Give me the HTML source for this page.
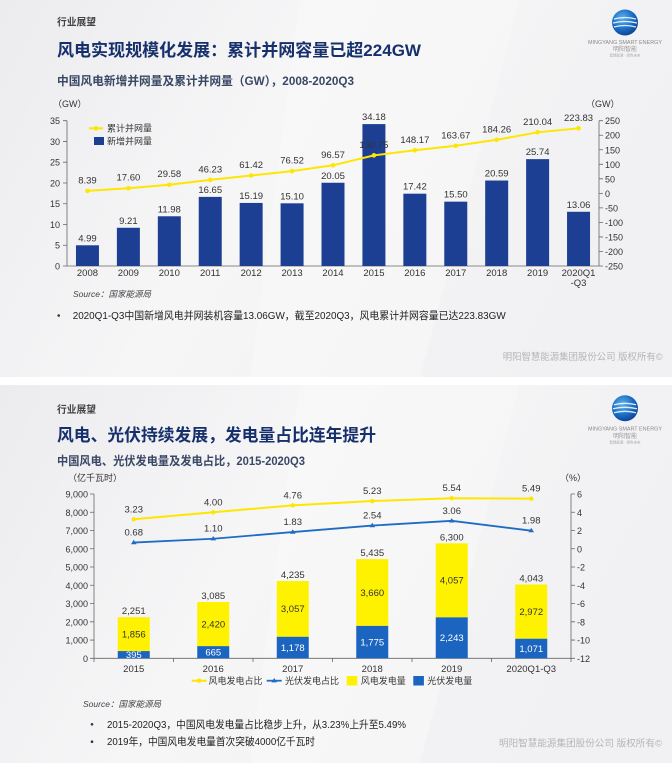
<!DOCTYPE html>
<html><head><meta charset="utf-8">
<style>
html,body{margin:0;padding:0;background:#fff;}
body{width:672px;height:766px;overflow:hidden;}
svg{display:block;}
text{font-family:"Liberation Sans","Noto Sans CJK SC",sans-serif;}
.n{font-size:9.5px;fill:#333;}
.ax{font-size:9px;fill:#333;}
</style></head><body>
<svg width="672" height="766" viewBox="0 0 672 766" xmlns="http://www.w3.org/2000/svg">
<defs>
<linearGradient id="bg" x1="0" y1="0" x2="1" y2="0.3">
<stop offset="0" stop-color="#ececef"/><stop offset="0.45" stop-color="#f6f6f7"/><stop offset="1" stop-color="#f1f1f3"/>
</linearGradient>
<radialGradient id="lg" cx="0.4" cy="0.35" r="0.7">
<stop offset="0" stop-color="#5fb3ec"/><stop offset="0.6" stop-color="#1a6cc4"/><stop offset="1" stop-color="#0d3f8f"/>
</radialGradient>
</defs>
<rect x="0" y="0" width="672" height="766" fill="#fff"/>
<rect x="0" y="0" width="672" height="377" fill="url(#bg)"/>
<rect x="0" y="385" width="672" height="378" fill="url(#bg)"/>
<polygon points="300,0 520,0 420,377 250,377" fill="#fff" opacity="0.25"/>
<polygon points="300,385 520,385 420,763 250,763" fill="#fff" opacity="0.25"/>

<!-- ===== Slide 1 ===== -->
<text x="57" y="25.5" font-size="10" font-weight="700" fill="#444" textLength="39" lengthAdjust="spacingAndGlyphs">行业展望</text>
<text x="57" y="56" font-size="17" font-weight="700" fill="#16306c" textLength="364" lengthAdjust="spacingAndGlyphs">风电实现规模化发展：累计并网容量已超224GW</text>
<text x="57" y="85" font-size="12" font-weight="700" fill="#3a4866" textLength="297" lengthAdjust="spacingAndGlyphs">中国风电新增并网量及累计并网量（GW），2008-2020Q3</text>
<!-- logo 1 -->
<circle cx="625" cy="22.5" r="13" fill="url(#lg)"/>
<path d="M614,19 Q625,16 636,19 M613,23 Q625,20 637,23 M614,27 Q625,24 636,27" stroke="#fff" stroke-width="1.3" fill="none" opacity="0.85"/>
<text x="625" y="44" font-size="5" fill="#8a8a8a" text-anchor="middle" textLength="74" lengthAdjust="spacingAndGlyphs">MINGYANG SMART ENERGY</text>
<text x="625" y="51" font-size="6" fill="#999" text-anchor="middle">明阳智能</text>
<text x="625" y="56.5" font-size="3.5" fill="#aaa" text-anchor="middle">智慧能源 · 绿色未来</text>

<text x="53" y="107" class="ax">（GW）</text>
<text x="586" y="107" class="ax">（GW）</text>

<!-- axes -->
<g stroke="#666" stroke-width="0.8" fill="none">
<line x1="67" y1="120.7" x2="67" y2="266"/>
<line x1="599" y1="120.7" x2="599" y2="266"/>
<line x1="67" y1="266" x2="599" y2="266"/>
<path d="M63,266H67M63,245.24H67M63,224.49H67M63,203.73H67M63,182.97H67M63,162.21H67M63,141.46H67M63,120.7H67"/>
<path d="M599,266H603M599,251.47H603M599,236.94H603M599,222.41H603M599,207.88H603M599,193.35H603M599,178.82H603M599,164.29H603M599,149.76H603M599,135.23H603M599,120.7H603"/>
</g>
<g class="ax" text-anchor="end">
<text x="60" y="269.5">0</text><text x="60" y="248.7">5</text><text x="60" y="228">10</text><text x="60" y="207.2">15</text><text x="60" y="186.5">20</text><text x="60" y="165.7">25</text><text x="60" y="145">30</text><text x="60" y="124.2">35</text>
</g>
<g class="ax">
<text x="605" y="269.5">-250</text><text x="605" y="255">-200</text><text x="605" y="240.4">-150</text><text x="605" y="225.9">-100</text><text x="605" y="211.4">-50</text><text x="605" y="196.9">0</text><text x="605" y="182.3">50</text><text x="605" y="167.8">100</text><text x="605" y="153.3">150</text><text x="605" y="138.7">200</text><text x="605" y="124.2">250</text>
</g>

<!-- bars -->
<g fill="#1d3f93">
<rect x="75.96" y="245.28" width="23" height="20.72"/>
<rect x="116.88" y="227.77" width="23" height="38.23"/>
<rect x="157.81" y="216.27" width="23" height="49.73"/>
<rect x="198.73" y="196.88" width="23" height="69.12"/>
<rect x="239.65" y="202.94" width="23" height="63.06"/>
<rect x="280.58" y="203.31" width="23" height="62.69"/>
<rect x="321.5" y="182.76" width="23" height="83.24"/>
<rect x="362.42" y="124.1" width="23" height="141.9"/>
<rect x="403.35" y="193.68" width="23" height="72.32"/>
<rect x="444.27" y="201.65" width="23" height="64.35"/>
<rect x="485.19" y="180.52" width="23" height="85.48"/>
<rect x="526.12" y="159.14" width="23" height="106.86"/>
<rect x="567.04" y="211.78" width="23" height="54.22"/>
</g>
<g class="n" text-anchor="middle">
<text x="87.46" y="241.3">4.99</text>
<text x="128.38" y="223.8">9.21</text>
<text x="169.31" y="212.3">11.98</text>
<text x="210.23" y="192.9">16.65</text>
<text x="251.15" y="198.9">15.19</text>
<text x="292.08" y="199.3">15.10</text>
<text x="333" y="178.8">20.05</text>
<text x="373.92" y="120.1">34.18</text>
<text x="414.85" y="189.7">17.42</text>
<text x="455.77" y="197.7">15.50</text>
<text x="496.69" y="176.5">20.59</text>
<text x="537.62" y="155.1">25.74</text>
<text x="578.54" y="207.8">13.06</text>
</g>
<!-- cumulative line -->
<polyline fill="none" stroke="#ffe600" stroke-width="2" points="87.46,190.91 128.38,188.24 169.31,184.75 210.23,179.92 251.15,175.5 292.08,171.11 333,165.29 373.92,155.35 414.85,150.29 455.77,145.79 496.69,139.8 537.62,132.31 578.54,128.31"/>
<g fill="#ffe600">
<circle cx="87.46" cy="190.91" r="2.3"/><circle cx="128.38" cy="188.24" r="2.3"/><circle cx="169.31" cy="184.75" r="2.3"/><circle cx="210.23" cy="179.92" r="2.3"/><circle cx="251.15" cy="175.5" r="2.3"/><circle cx="292.08" cy="171.11" r="2.3"/><circle cx="333" cy="165.29" r="2.3"/><circle cx="373.92" cy="155.35" r="2.3"/><circle cx="414.85" cy="150.29" r="2.3"/><circle cx="455.77" cy="145.79" r="2.3"/><circle cx="496.69" cy="139.8" r="2.3"/><circle cx="537.62" cy="132.31" r="2.3"/><circle cx="578.54" cy="128.31" r="2.3"/>
</g>
<g class="n" text-anchor="middle">
<text x="87.46" y="183.4">8.39</text>
<text x="128.38" y="180.7">17.60</text>
<text x="169.31" y="177.2">29.58</text>
<text x="210.23" y="172.4">46.23</text>
<text x="251.15" y="168">61.42</text>
<text x="292.08" y="163.6">76.52</text>
<text x="333" y="157.8">96.57</text>
<text x="373.92" y="147.8">130.75</text>
<text x="414.85" y="142.8">148.17</text>
<text x="455.77" y="138.3">163.67</text>
<text x="496.69" y="132.3">184.26</text>
<text x="537.62" y="124.8">210.04</text>
<text x="578.54" y="120.8">223.83</text>
</g>
<g class="n" text-anchor="middle">
<text x="87.46" y="276">2008</text><text x="128.38" y="276">2009</text><text x="169.31" y="276">2010</text><text x="210.23" y="276">2011</text><text x="251.15" y="276">2012</text><text x="292.08" y="276">2013</text><text x="333" y="276">2014</text><text x="373.92" y="276">2015</text><text x="414.85" y="276">2016</text><text x="455.77" y="276">2017</text><text x="496.69" y="276">2018</text><text x="537.62" y="276">2019</text><text x="578.54" y="276">2020Q1</text><text x="578.54" y="286">-Q3</text>
</g>
<!-- legend 1 -->
<line x1="89" y1="128.3" x2="103" y2="128.3" stroke="#ffe600" stroke-width="2"/>
<circle cx="96" cy="128.3" r="2.3" fill="#ffe600"/>
<text x="107" y="131.5" font-size="9" fill="#333">累计并网量</text>
<rect x="94" y="137" width="10" height="8" fill="#1d3f93"/>
<text x="107" y="144.5" font-size="9" fill="#333">新增并网量</text>

<text x="73" y="297" font-size="8.5" font-style="italic" fill="#444" textLength="78" lengthAdjust="spacingAndGlyphs">Source：国家能源局</text>
<circle cx="58.7" cy="315.5" r="1.3" fill="#333"/>
<text x="72.7" y="319" font-size="10.5" fill="#222" textLength="433" lengthAdjust="spacingAndGlyphs">2020Q1-Q3中国新增风电并网装机容量13.06GW，截至2020Q3，风电累计并网容量已达223.83GW</text>
<text x="502.7" y="360" font-size="9.5" fill="#b5b5b5" font-family="'Noto Serif CJK SC',serif" textLength="160" lengthAdjust="spacingAndGlyphs">明阳智慧能源集团股份公司 版权所有©</text>

<!-- ===== Slide 2 ===== -->
<text x="57" y="413" font-size="10" font-weight="700" fill="#444" textLength="39" lengthAdjust="spacingAndGlyphs">行业展望</text>
<text x="57" y="441" font-size="17" font-weight="700" fill="#16306c" textLength="319" lengthAdjust="spacingAndGlyphs">风电、光伏持续发展，发电量占比连年提升</text>
<text x="57" y="465" font-size="12" font-weight="700" fill="#3a4866" textLength="248" lengthAdjust="spacingAndGlyphs">中国风电、光伏发电量及发电占比，2015-2020Q3</text>
<!-- logo 2 -->
<circle cx="625" cy="408.3" r="13" fill="url(#lg)"/>
<path d="M614,404.8 Q625,401.8 636,404.8 M613,408.8 Q625,405.8 637,408.8 M614,412.8 Q625,409.8 636,412.8" stroke="#fff" stroke-width="1.3" fill="none" opacity="0.85"/>
<text x="625" y="430.5" font-size="5" fill="#8a8a8a" text-anchor="middle" textLength="74" lengthAdjust="spacingAndGlyphs">MINGYANG SMART ENERGY</text>
<text x="625" y="438" font-size="6" fill="#999" text-anchor="middle">明阳智能</text>
<text x="625" y="443.5" font-size="3.5" fill="#aaa" text-anchor="middle">智慧能源 · 绿色未来</text>

<text x="68" y="481" font-size="9" fill="#333">（亿千瓦时）</text>
<text x="560" y="481" font-size="9" fill="#333">（%）</text>

<g stroke="#666" stroke-width="0.8" fill="none">
<line x1="94" y1="494" x2="94" y2="658.3"/>
<line x1="571" y1="494" x2="571" y2="658.3"/>
<line x1="94" y1="658.3" x2="571" y2="658.3"/>
<path d="M90,658.3H94M90,640.04H94M90,621.79H94M90,603.53H94M90,585.28H94M90,567.02H94M90,548.76H94M90,530.51H94M90,512.25H94M90,494H94"/>
<path d="M571,658.3H575M571,640.04H575M571,621.79H575M571,603.53H575M571,585.28H575M571,567.02H575M571,548.76H575M571,530.51H575M571,512.25H575M571,494H575"/>
<path d="M94,658.3V662M173.5,658.3V662M253,658.3V662M332.5,658.3V662M412,658.3V662M491.5,658.3V662M571,658.3V662"/>
</g>
<g class="ax" text-anchor="end">
<text x="88" y="661.8">0</text><text x="88" y="643.5">1,000</text><text x="88" y="625.3">2,000</text><text x="88" y="607">3,000</text><text x="88" y="588.8">4,000</text><text x="88" y="570.5">5,000</text><text x="88" y="552.3">6,000</text><text x="88" y="534">7,000</text><text x="88" y="515.8">8,000</text><text x="88" y="497.5">9,000</text>
</g>
<g class="ax">
<text x="577" y="661.8">-12</text><text x="577" y="643.5">-10</text><text x="577" y="625.3">-8</text><text x="577" y="607">-6</text><text x="577" y="588.8">-4</text><text x="577" y="570.5">-2</text><text x="577" y="552.3">0</text><text x="577" y="534">2</text><text x="577" y="515.8">4</text><text x="577" y="497.5">6</text>
</g>

<!-- stacked bars -->
<g fill="#fff200">
<rect x="117.75" y="617.21" width="32" height="33.88"/>
<rect x="197.25" y="601.98" width="32" height="44.18"/>
<rect x="276.75" y="580.99" width="32" height="55.8"/>
<rect x="356.25" y="559.08" width="32" height="66.82"/>
<rect x="435.75" y="543.29" width="32" height="74.06"/>
<rect x="515.25" y="584.49" width="32" height="54.26"/>
</g>
<g fill="#1b64bf">
<rect x="117.75" y="651.09" width="32" height="7.21"/>
<rect x="197.25" y="646.16" width="32" height="12.14"/>
<rect x="276.75" y="636.79" width="32" height="21.51"/>
<rect x="356.25" y="625.9" width="32" height="32.4"/>
<rect x="435.75" y="617.35" width="32" height="40.95"/>
<rect x="515.25" y="638.75" width="32" height="19.55"/>
</g>
<g class="n" text-anchor="middle">
<text x="133.75" y="614.2">2,251</text>
<text x="213.25" y="599">3,085</text>
<text x="292.75" y="578">4,235</text>
<text x="372.25" y="556.1">5,435</text>
<text x="451.75" y="540.3">6,300</text>
<text x="531.25" y="581.5">4,043</text>
<text x="133.75" y="637.5">1,856</text>
<text x="213.25" y="627.4">2,420</text>
<text x="292.75" y="612.2">3,057</text>
<text x="372.25" y="595.8">3,660</text>
<text x="451.75" y="583.6">4,057</text>
<text x="531.25" y="614.9">2,972</text>
</g>
<g class="n" text-anchor="middle" style="fill:#fff">
<text x="133.75" y="658">395</text>
<text x="213.25" y="655.5">665</text>
<text x="292.75" y="650.9">1,178</text>
<text x="372.25" y="645.4">1,775</text>
<text x="451.75" y="641.1">2,243</text>
<text x="531.25" y="651.8">1,071</text>
</g>
<!-- lines -->
<polyline fill="none" stroke="#ffe600" stroke-width="2" points="133.75,519.28 213.25,512.26 292.75,505.32 372.25,501.03 451.75,498.2 531.25,498.66"/>
<g fill="#ffe600">
<circle cx="133.75" cy="519.28" r="2.2"/><circle cx="213.25" cy="512.26" r="2.2"/><circle cx="292.75" cy="505.32" r="2.2"/><circle cx="372.25" cy="501.03" r="2.2"/><circle cx="451.75" cy="498.2" r="2.2"/><circle cx="531.25" cy="498.66" r="2.2"/>
</g>
<polyline fill="none" stroke="#1f6cc6" stroke-width="1.8" points="133.75,542.56 213.25,538.73 292.75,532.06 372.25,525.58 451.75,520.84 531.25,530.69"/>
<g fill="#1f6cc6">
<path d="M133.75,539.8l2.8,4.4h-5.6z"/><path d="M213.25,536l2.8,4.4h-5.6z"/><path d="M292.75,529.3l2.8,4.4h-5.6z"/><path d="M372.25,522.8l2.8,4.4h-5.6z"/><path d="M451.75,518.1l2.8,4.4h-5.6z"/><path d="M531.25,527.9l2.8,4.4h-5.6z"/>
</g>
<g class="n" text-anchor="middle">
<text x="133.75" y="512.3">3.23</text>
<text x="213.25" y="505.3">4.00</text>
<text x="292.75" y="498.3">4.76</text>
<text x="372.25" y="494">5.23</text>
<text x="451.75" y="491.2">5.54</text>
<text x="531.25" y="491.7">5.49</text>
<text x="133.75" y="535.6">0.68</text>
<text x="213.25" y="531.7">1.10</text>
<text x="292.75" y="525.1">1.83</text>
<text x="372.25" y="518.6">2.54</text>
<text x="451.75" y="513.8">3.06</text>
<text x="531.25" y="523.7">1.98</text>
</g>
<g class="n" text-anchor="middle">
<text x="133.75" y="671.8">2015</text><text x="213.25" y="671.8">2016</text><text x="292.75" y="671.8">2017</text><text x="372.25" y="671.8">2018</text><text x="451.75" y="671.8">2019</text><text x="531.25" y="671.8">2020Q1-Q3</text>
</g>
<!-- legend 2 -->
<line x1="191.7" y1="680.7" x2="206.7" y2="680.7" stroke="#ffe600" stroke-width="2"/>
<circle cx="199.2" cy="680.7" r="2.2" fill="#ffe600"/>
<text x="208.5" y="684" font-size="9" fill="#333">风电发电占比</text>
<line x1="266.7" y1="680.7" x2="281.7" y2="680.7" stroke="#1f6cc6" stroke-width="1.8"/>
<path d="M274.2,678l2.8,4.4h-5.6z" fill="#1f6cc6"/>
<text x="285" y="684" font-size="9" fill="#333">光伏发电占比</text>
<rect x="346.7" y="676" width="10.6" height="9.5" fill="#fff200"/>
<text x="360.7" y="684" font-size="9" fill="#333">风电发电量</text>
<rect x="413.3" y="676" width="10.6" height="9.5" fill="#1b64bf"/>
<text x="427.3" y="684" font-size="9" fill="#333">光伏发电量</text>

<text x="83" y="707" font-size="8.5" font-style="italic" fill="#444" textLength="78" lengthAdjust="spacingAndGlyphs">Source：国家能源局</text>
<circle cx="92" cy="724.3" r="1.3" fill="#333"/>
<text x="107" y="727.8" font-size="10.5" fill="#222" textLength="299" lengthAdjust="spacingAndGlyphs">2015-2020Q3，中国风电发电量占比稳步上升，从3.23%上升至5.49%</text>
<circle cx="92" cy="741.7" r="1.3" fill="#333"/>
<text x="107" y="745.2" font-size="10.5" fill="#222" textLength="208" lengthAdjust="spacingAndGlyphs">2019年，中国风电发电量首次突破4000亿千瓦时</text>
<text x="499" y="746.5" font-size="9.5" fill="#b5b5b5" font-family="'Noto Serif CJK SC',serif" textLength="163" lengthAdjust="spacingAndGlyphs">明阳智慧能源集团股份公司 版权所有©</text>
</svg>
</body></html>
